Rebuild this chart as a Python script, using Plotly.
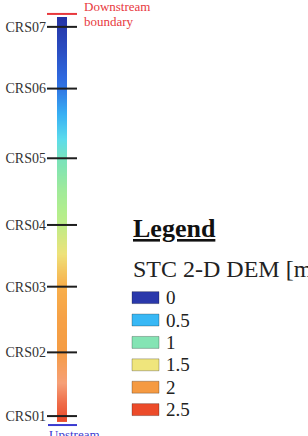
import plotly.graph_objects as go

# ---------------- data ----------------
station_names = ["CRS01", "CRS02", "CRS03", "CRS04", "CRS05", "CRS06", "CRS07"]
station_dist = [0, 640, 1300, 1920, 2590, 3290, 3910]          # distance along reach [m]

profile_dist = [-60, 130, 330, 650, 980, 1310, 1480, 1630, 1920, 2280,
                2590, 2780, 2980, 3290, 3680, 4010]
profile_dem = [2.5, 2.4, 2.25, 2.0, 1.95, 1.8, 1.65, 1.5, 1.3, 1.15,
               0.95, 0.72, 0.55, 0.3, 0.12, 0.0]

legend_values = ["0", "0.5", "1", "1.5", "2", "2.5"]
legend_colors = ["#2a38ab", "#38b8f5", "#84e4b4", "#efe57c", "#f59a42", "#ec4b2a"]

cscale = [
    [0.0, "#2533a6"], [0.1, "#2f6ae0"], [0.2, "#38b0f4"], [0.288, "#5cdcec"],
    [0.4, "#80e4b4"], [0.5, "#b4ee8c"], [0.6, "#eee27a"], [0.72, "#f8b04c"],
    [0.8, "#f59c44"], [0.9, "#f6a078"], [1.0, "#ea4a2a"],
]

W, H = 308, 436
SERIF = "Liberation Serif"

fig = go.Figure()

# gradient bar
fig.add_trace(go.Heatmap(
    z=[[v, v] for v in profile_dem],
    x=[-1, 0, 1],
    y=profile_dist,
    zmin=0, zmax=2.5,
    colorscale=cscale,
    zsmooth="best",
    showscale=False,
    hoverinfo="skip",
))

# station tick lines crossing the bar
lx, ly = [], []
for d in station_dist:
    lx += [-3, 3, None]
    ly += [d, d, None]
fig.add_trace(go.Scatter(
    x=lx, y=ly, mode="lines",
    line=dict(color="#1e1e1e", width=2),
    cliponaxis=False, hoverinfo="skip", showlegend=False,
))

shapes = []
annotations = []

# boundary lines
shapes.append(dict(type="line", xref="paper", yref="paper",
                   x0=47 / W, x1=77 / W, y0=1 - 14 / H, y1=1 - 14 / H,
                   line=dict(color="#e8383d", width=2)))
shapes.append(dict(type="line", xref="paper", yref="paper",
                   x0=48 / W, x1=77 / W, y0=1 - 427 / H, y1=1 - 427 / H,
                   line=dict(color="#3a3ad0", width=2)))

annotations.append(dict(xref="paper", yref="paper", x=82 / W, y=1 - 7 / H,
                        xanchor="left", yanchor="middle", align="left",
                        showarrow=False, text="Downstream",
                        font=dict(family=SERIF, size=13, color="#e8383d")))
annotations.append(dict(xref="paper", yref="paper", x=82 / W, y=1 - 22 / H,
                        xanchor="left", yanchor="middle", align="left",
                        showarrow=False, text="boundary",
                        font=dict(family=SERIF, size=13, color="#e8383d")))
annotations.append(dict(xref="paper", yref="paper", x=47 / W, y=1 - 427 / H,
                        xanchor="left", yanchor="top", align="left",
                        showarrow=False, text="Upstream",
                        font=dict(family=SERIF, size=13, color="#3a3ad0")))

# legend block
annotations.append(dict(xref="paper", yref="paper", x=131 / W, y=1 - 230 / H,
                        xanchor="left", yanchor="middle", showarrow=False,
                        text="<b><u>Legend</u></b>",
                        font=dict(family=SERIF, size=26, color="#111")))
annotations.append(dict(xref="paper", yref="paper", x=131 / W, y=1 - 270 / H,
                        xanchor="left", yanchor="middle", showarrow=False,
                        text="STC 2-D DEM [m]",
                        font=dict(family=SERIF, size=24, color="#222")))
for i, (lab, col) in enumerate(zip(legend_values, legend_colors)):
    cy = 299 + 22.5 * i
    shapes.append(dict(type="rect", xref="paper", yref="paper",
                       x0=132 / W, x1=159 / W,
                       y0=1 - (cy + 6) / H, y1=1 - (cy - 6) / H,
                       fillcolor=col, line=dict(color="rgba(0,0,0,0.25)", width=1)))
    annotations.append(dict(xref="paper", yref="paper", x=164 / W, y=1 - cy / H,
                            xanchor="left", yanchor="middle", showarrow=False,
                            text=lab, font=dict(family=SERIF, size=19, color="#222")))

fig.update_layout(
    width=W, height=H,
    margin=dict(l=0, r=0, t=0, b=0),
    paper_bgcolor="white", plot_bgcolor="rgba(0,0,0,0)",
    showlegend=False,
    xaxis=dict(domain=[47 / W, 77 / W], range=[-3, 3], visible=False, fixedrange=True),
    yaxis=dict(domain=[1 - 424 / H, 1 - 17 / H], range=[-60, 4010],
               tickvals=station_dist, ticktext=station_names,
               ticks="", showgrid=False, zeroline=False, showline=False,
               tickfont=dict(family=SERIF, size=14, color="#333"),
               ticklabelstandoff=0, fixedrange=True),
    shapes=shapes, annotations=annotations,
    hovermode=False,
)

fig.write_html("out.html", config={"displayModeBar": False})
